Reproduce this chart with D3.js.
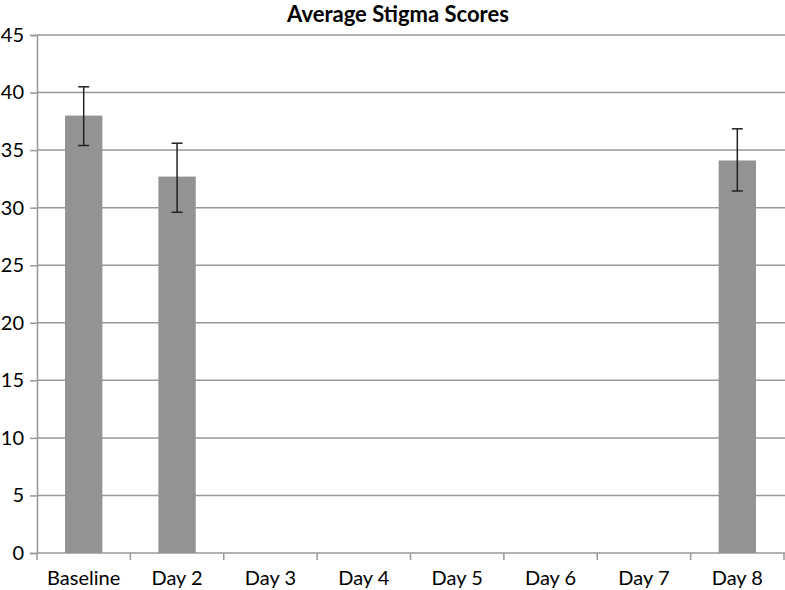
<!DOCTYPE html>
<html>
<head>
<meta charset="utf-8">
<script src="https://cdn.jsdelivr.net/npm/d3@7"></script>
<style>
	body { margin: 0; background: #fff; }
	text { font-family: Lato, "Open Sans", sans-serif; fill: #000; }
</style>
</head>
<body>
<svg id="chart" width="785" height="590"></svg>
<script>
var categories = ['Baseline', 'Day 2', 'Day 3', 'Day 4', 'Day 5', 'Day 6', 'Day 7', 'Day 8'];
// null = no bar for that day
var scores = [38.0, 32.7, null, null, null, null, null, 34.1];
var errLow = [35.4, 29.6, null, null, null, null, null, 31.45];
var errHigh = [40.5, 35.6, null, null, null, null, null, 36.85];
var yTicks = [0, 5, 10, 15, 20, 25, 30, 35, 40, 45];

var svg = d3.select('#chart');
var plotLeft = 37, plotRight = 784, plotTop = 35, plotBottom = 553;

var x = d3.scaleBand().domain(categories).range([plotLeft, plotRight]).paddingInner(0.6).paddingOuter(0.3);
var xTicks = d3.scaleBand().domain(categories).range([plotLeft, plotRight]);
var y = d3.scaleLinear().domain([0, 45]).range([plotBottom, plotTop]);

// gridlines
svg.append('g')
	.selectAll('line')
	.data(yTicks.slice(1))
	.enter().append('line')
	.attr('x1', plotLeft)
	.attr('x2', plotRight + 1)
	.attr('y1', function(d){ return y(d); })
	.attr('y2', function(d){ return y(d); })
	.attr('stroke', '#999')
	.attr('stroke-width', 1.5);

// y axis
var yAxis = svg.append('g')
	.attr('transform', 'translate(' + plotLeft + ',0)')
	.call(d3.axisLeft(y).tickValues(yTicks).tickSize(7).tickPadding(6));
yAxis.selectAll('text').style('font-size', '20px');
yAxis.select('.domain').attr('stroke', '#999').attr('stroke-width', 1.5);
yAxis.selectAll('.tick line').attr('stroke', '#999').attr('stroke-width', 1.5);

// x axis with ticks between categories
var xAxisG = svg.append('g').attr('transform', 'translate(0,' + plotBottom + ')');
xAxisG.append('line')
	.attr('x1', plotLeft).attr('x2', plotRight + 1)
	.attr('stroke', '#999').attr('stroke-width', 1.5);
xAxisG.selectAll('line.tick')
	.data(categories.concat(['end']))
	.enter().append('line')
	.attr('class', 'tick')
	.attr('x1', function(d, i){ return i < categories.length ? xTicks(d) : plotRight; })
	.attr('x2', function(d, i){ return i < categories.length ? xTicks(d) : plotRight; })
	.attr('y1', 0).attr('y2', 7)
	.attr('stroke', '#999').attr('stroke-width', 1.5);
xAxisG.selectAll('text')
	.data(categories)
	.enter().append('text')
	.attr('x', function(d){ return xTicks(d) + xTicks.bandwidth() / 2; })
	.attr('y', 32)
	.attr('text-anchor', 'middle')
	.style('font-size', '20px')
	.text(function(d){ return d; });

// bars
var idx = d3.range(categories.length).filter(function(i){ return scores[i] !== null; });
svg.append('g')
	.selectAll('rect')
	.data(idx)
	.enter().append('rect')
	.attr('x', function(i){ return x(categories[i]); })
	.attr('width', x.bandwidth())
	.attr('y', function(i){ return y(scores[i]); })
	.attr('height', function(i){ return y(0) - y(scores[i]); })
	.attr('fill', '#939393');

// error bars
var eb = svg.append('g').attr('stroke', '#222').attr('stroke-width', 1.5);
idx.forEach(function(i){
	var cx = x(categories[i]) + x.bandwidth() / 2;
	eb.append('line').attr('x1', cx).attr('x2', cx).attr('y1', y(errLow[i])).attr('y2', y(errHigh[i]));
	eb.append('line').attr('x1', cx - 5.5).attr('x2', cx + 5.5).attr('y1', y(errLow[i])).attr('y2', y(errLow[i]));
	eb.append('line').attr('x1', cx - 5.5).attr('x2', cx + 5.5).attr('y1', y(errHigh[i])).attr('y2', y(errHigh[i]));
});

// title
svg.append('text')
	.attr('x', 398)
	.attr('y', 22)
	.attr('text-anchor', 'middle')
	.style('font-size', '22px')
	.style('font-weight', 'bold')
	.text('Average Stigma Scores');
</script>
</body>
</html>
